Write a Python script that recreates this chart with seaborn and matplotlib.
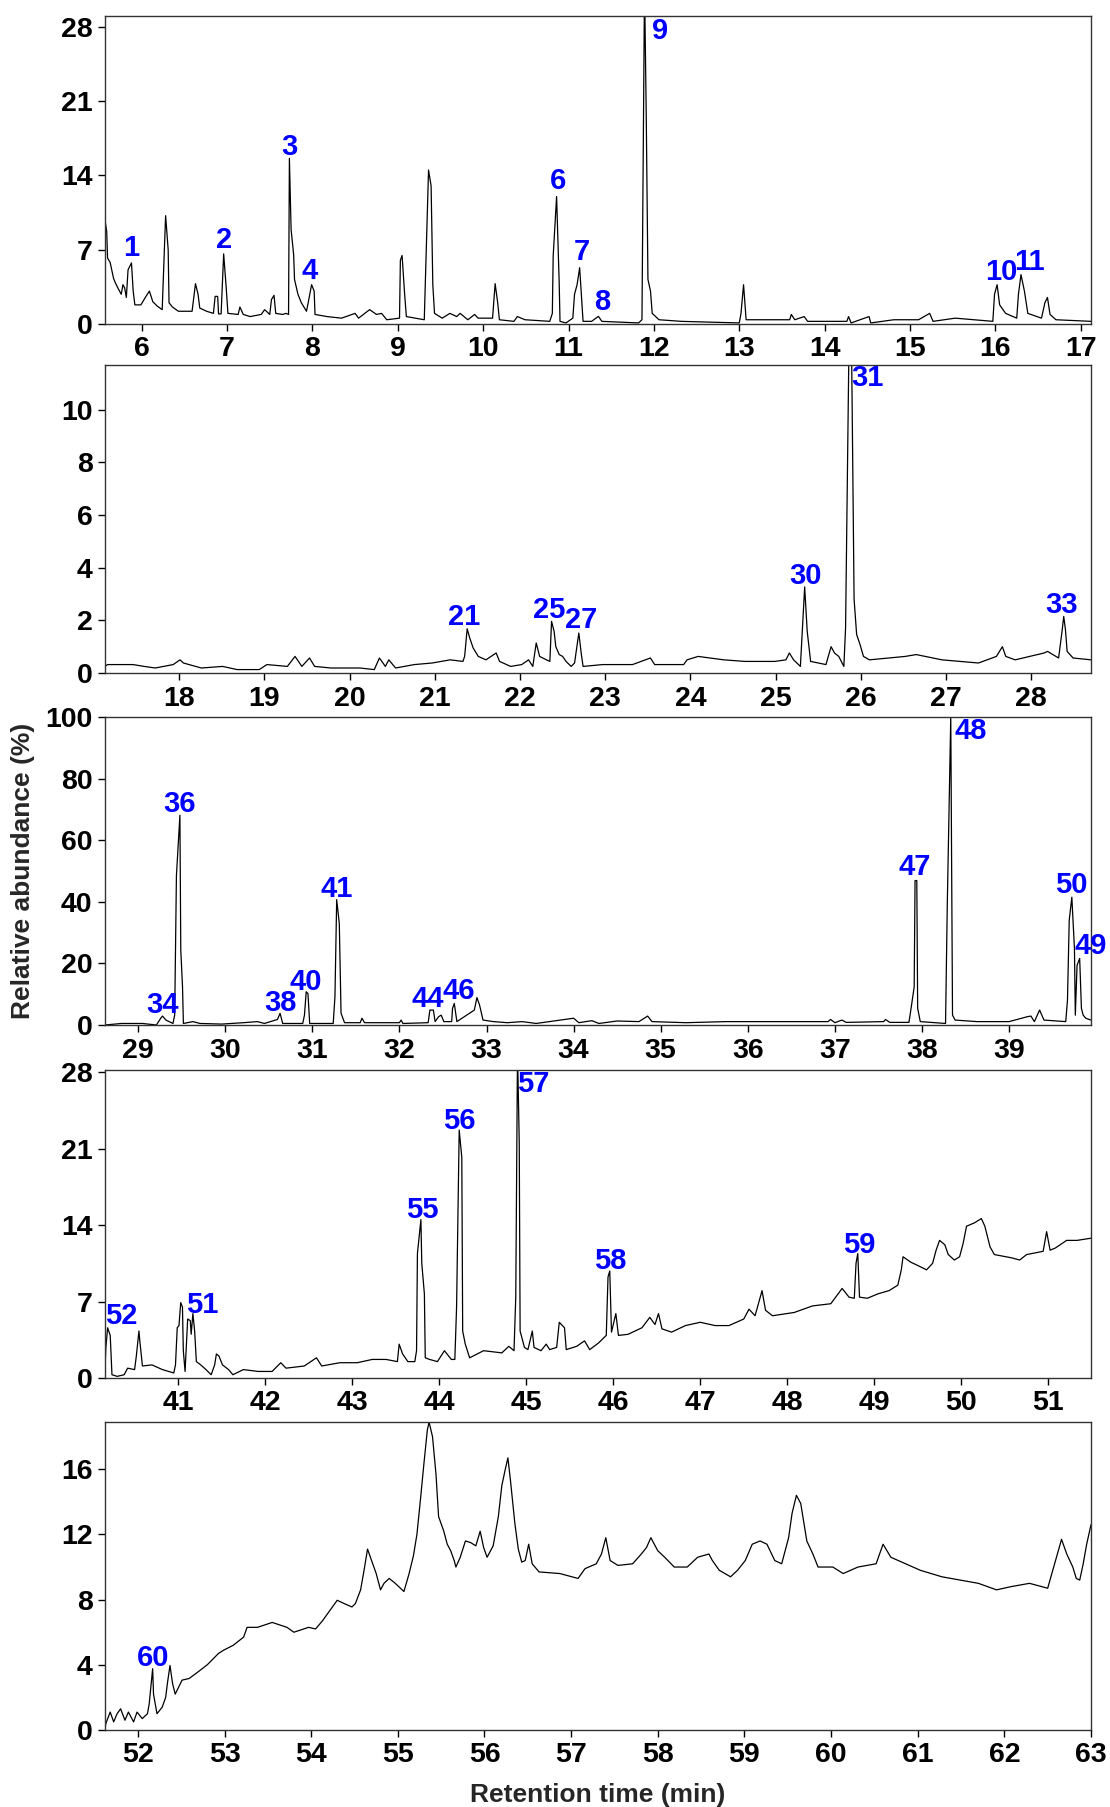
import matplotlib
matplotlib.use("Agg")
import matplotlib.pyplot as plt
import seaborn as sns
import pandas as pd

# chromatogram traces, (retention time min, relative abundance %)
trace_1 = [
    (5.57, 9.8), (5.59, 8.7), (5.60, 6.2), (5.63, 5.8), (5.67, 4.3), (5.69, 3.9), (5.72, 3.4),
    (5.76, 2.8), (5.78, 3.7), (5.80, 3.4), (5.82, 2.5), (5.84, 5.1), (5.88, 5.75), (5.90, 3.1),
    (5.92, 1.8), (5.99, 1.8), (6.05, 2.6), (6.09, 3.1), (6.13, 2.1), (6.18, 1.7), (6.24, 1.35),
    (6.28, 10.2), (6.31, 7.0), (6.32, 2.0), (6.36, 1.6), (6.43, 1.2), (6.59, 1.2), (6.63, 3.8),
    (6.66, 2.8), (6.68, 1.5), (6.76, 1.2), (6.84, 1.0), (6.86, 2.6), (6.89, 2.6), (6.90, 0.95),
    (6.93, 0.95), (6.96, 6.6), (6.99, 3.4), (7.01, 1.0), (7.13, 0.9), (7.15, 1.6), (7.19, 0.9),
    (7.27, 0.7), (7.40, 0.9), (7.44, 1.35), (7.50, 0.9), (7.52, 2.3), (7.55, 2.7), (7.57, 1.0),
    (7.65, 0.9), (7.69, 1.0), (7.72, 0.9), (7.73, 15.6), (7.75, 8.9), (7.78, 6.5), (7.79, 4.2),
    (7.83, 2.8), (7.87, 2.0), (7.93, 1.2), (7.95, 2.0), (7.99, 3.7), (8.02, 3.1), (8.03, 0.9),
    (8.17, 0.7), (8.34, 0.55), (8.50, 1.0), (8.54, 0.55), (8.67, 1.35), (8.75, 0.9), (8.81, 1.0),
    (8.87, 0.4), (9.02, 0.55), (9.03, 6.0), (9.05, 6.45), (9.08, 2.8), (9.10, 0.7), (9.31, 0.4),
    (9.36, 14.5), (9.39, 13.0), (9.41, 3.7), (9.43, 1.0), (9.52, 0.55), (9.61, 1.0), (9.69, 0.7),
    (9.73, 1.0), (9.82, 0.4), (9.90, 0.9), (9.94, 0.55), (10.11, 0.55), (10.14, 3.8), (10.17, 2.0),
    (10.19, 0.4), (10.36, 0.25), (10.40, 0.7), (10.49, 0.4), (10.78, 0.25), (10.81, 1.0),
    (10.82, 6.4), (10.86, 12.0), (10.89, 4.0), (10.90, 0.25), (10.97, 0.1), (11.05, 0.55),
    (11.07, 2.8), (11.10, 3.7), (11.13, 5.3), (11.15, 2.8), (11.17, 0.25), (11.27, 0.25),
    (11.35, 0.72), (11.39, 0.25), (11.82, 0.1), (11.86, 0.4), (11.89, 32.0), (11.91, 19.7),
    (11.93, 4.2), (11.96, 3.1), (11.98, 1.0), (12.06, 0.4), (12.32, 0.25), (13.00, 0.1),
    (13.02, 1.0), (13.05, 3.7), (13.08, 0.4), (13.59, 0.4), (13.61, 0.9), (13.65, 0.4),
    (13.76, 0.7), (13.80, 0.25), (14.26, 0.25), (14.28, 0.7), (14.31, 0.1), (14.52, 0.7),
    (14.54, 0.1), (14.81, 0.4), (15.10, 0.4), (15.23, 1.0), (15.27, 0.25), (15.53, 0.55),
    (15.97, 0.25), (15.99, 2.8), (16.02, 3.7), (16.05, 1.8), (16.12, 1.0), (16.25, 0.55),
    (16.27, 2.8), (16.30, 4.65), (16.34, 3.1), (16.38, 1.0), (16.54, 0.55), (16.58, 2.0),
    (16.61, 2.5), (16.64, 0.9), (16.71, 0.4), (17.12, 0.25),
]

trace_2 = [
    (17.13, 0.25), (17.16, 0.32), (17.46, 0.32), (17.59, 0.25), (17.72, 0.19), (17.93, 0.32),
    (18.01, 0.5), (18.05, 0.38), (18.26, 0.19), (18.51, 0.25), (18.68, 0.13), (18.94, 0.13),
    (19.03, 0.32), (19.27, 0.25), (19.36, 0.63), (19.44, 0.25), (19.53, 0.57), (19.59, 0.25),
    (19.78, 0.19), (20.12, 0.19), (20.29, 0.13), (20.35, 0.57), (20.42, 0.25), (20.46, 0.5),
    (20.54, 0.19), (20.76, 0.32), (20.97, 0.38), (21.18, 0.5), (21.33, 0.44), (21.35, 0.63),
    (21.38, 1.68), (21.41, 1.33), (21.45, 0.95), (21.51, 0.63), (21.60, 0.5), (21.72, 0.76),
    (21.76, 0.44), (21.89, 0.25), (22.02, 0.32), (22.10, 0.5), (22.15, 0.25), (22.19, 1.14),
    (22.23, 0.63), (22.31, 0.5), (22.35, 0.44), (22.37, 1.96), (22.40, 1.58), (22.42, 1.0),
    (22.46, 0.7), (22.50, 0.63), (22.54, 0.44), (22.60, 0.25), (22.64, 0.38), (22.69, 1.52),
    (22.72, 0.7), (22.74, 0.25), (22.97, 0.32), (23.32, 0.32), (23.53, 0.57), (23.58, 0.32),
    (23.92, 0.32), (23.96, 0.5), (24.09, 0.63), (24.39, 0.5), (24.64, 0.44), (24.99, 0.44),
    (25.12, 0.5), (25.16, 0.76), (25.21, 0.5), (25.29, 0.25), (25.34, 3.27), (25.37, 1.58),
    (25.41, 0.44), (25.59, 0.32), (25.65, 1.0), (25.69, 0.76), (25.74, 0.63), (25.80, 0.25),
    (25.82, 1.7), (25.86, 12.5), (25.89, 12.5), (25.92, 2.8), (25.95, 1.46), (25.99, 1.08),
    (26.03, 0.63), (26.10, 0.5), (26.52, 0.63), (26.65, 0.7), (26.95, 0.5), (27.38, 0.38),
    (27.59, 0.63), (27.66, 1.0), (27.70, 0.63), (27.81, 0.5), (28.15, 0.76), (28.19, 0.82),
    (28.32, 0.57), (28.36, 1.58), (28.38, 2.15), (28.40, 1.65), (28.42, 0.82), (28.49, 0.57),
    (28.70, 0.5),
]

trace_3 = [
    (28.62, 0.0), (28.81, 0.5), (29.05, 0.5), (29.21, 0.0), (29.26, 2.2), (29.28, 2.9),
    (29.32, 1.6), (29.40, 0.5), (29.42, 3.2), (29.44, 48.5), (29.48, 68.1), (29.49, 24.3),
    (29.51, 12.4), (29.52, 0.5), (29.63, 1.1), (29.71, 0.5), (29.96, 0.3), (30.21, 0.75),
    (30.37, 1.1), (30.45, 0.5), (30.60, 1.8), (30.63, 3.8), (30.66, 0.5), (30.89, 0.5),
    (30.91, 3.2), (30.93, 10.8), (30.95, 10.2), (30.97, 0.5), (31.24, 0.5), (31.26, 9.2),
    (31.28, 40.7), (31.31, 32.9), (31.33, 3.8), (31.37, 0.75), (31.55, 0.75), (31.57, 2.2),
    (31.60, 0.75), (32.00, 0.75), (32.02, 1.6), (32.04, 0.5), (32.33, 0.75), (32.35, 4.85),
    (32.39, 4.85), (32.41, 1.1), (32.45, 2.7), (32.48, 3.2), (32.51, 1.1), (32.60, 1.1),
    (32.61, 5.4), (32.63, 7.0), (32.66, 1.1), (32.86, 4.85), (32.89, 8.9), (32.92, 6.5),
    (32.96, 1.6), (33.08, 1.1), (33.24, 0.75), (33.41, 1.1), (33.57, 0.5), (34.00, 2.2),
    (34.06, 0.75), (34.21, 1.4), (34.29, 0.5), (34.50, 1.3), (34.75, 1.1), (34.85, 2.9),
    (34.90, 1.1), (35.29, 0.75), (35.75, 1.1), (36.13, 1.1), (36.92, 1.1), (36.95, 1.8),
    (37.00, 0.75), (37.08, 1.6), (37.13, 0.85), (37.56, 1.1), (37.58, 1.8), (37.63, 0.85),
    (37.85, 0.85), (37.88, 6.5), (37.91, 12.4), (37.92, 46.9), (37.94, 46.9), (37.95, 5.4),
    (37.98, 1.1), (38.27, 0.5), (38.29, 39.0), (38.33, 100.0), (38.35, 3.2), (38.38, 1.6),
    (38.63, 1.1), (39.00, 1.1), (39.21, 2.7), (39.25, 2.9), (39.29, 1.1), (39.35, 4.85),
    (39.40, 1.6), (39.65, 1.1), (39.67, 8.1), (39.69, 34.0), (39.72, 41.5), (39.75, 24.8),
    (39.76, 3.2), (39.78, 19.4), (39.81, 21.6), (39.83, 5.4), (39.85, 3.2), (39.88, 2.2),
    (39.94, 1.6),
]

trace_4 = [
    (40.16, 0.77), (40.17, 2.8), (40.19, 4.6), (40.22, 3.9), (40.24, 0.3), (40.30, 0.15),
    (40.38, 0.3), (40.42, 0.9), (40.50, 0.77), (40.52, 2.0), (40.55, 4.3), (40.56, 3.4),
    (40.59, 1.1), (40.70, 1.2), (40.82, 0.77), (40.95, 0.46), (40.97, 1.2), (40.99, 4.6),
    (41.01, 4.8), (41.03, 6.9), (41.05, 6.5), (41.06, 2.5), (41.08, 0.6), (41.11, 5.4),
    (41.14, 5.25), (41.15, 4.0), (41.17, 5.9), (41.19, 4.3), (41.21, 1.5), (41.26, 1.2),
    (41.32, 0.77), (41.38, 0.3), (41.42, 1.2), (41.44, 2.2), (41.47, 2.0), (41.51, 1.2),
    (41.58, 0.77), (41.63, 0.3), (41.75, 0.77), (41.92, 0.6), (42.08, 0.6), (42.18, 1.4),
    (42.24, 0.9), (42.45, 1.1), (42.59, 1.85), (42.65, 1.1), (42.86, 1.4), (43.06, 1.4),
    (43.23, 1.7), (43.39, 1.7), (43.52, 1.5), (43.54, 3.1), (43.58, 2.2), (43.64, 1.5),
    (43.72, 1.5), (43.74, 2.5), (43.75, 11.4), (43.79, 14.5), (43.80, 10.5), (43.83, 7.7),
    (43.84, 1.85), (43.89, 1.7), (43.98, 1.5), (44.06, 2.5), (44.14, 1.7), (44.18, 1.7),
    (44.20, 6.5), (44.23, 22.7), (44.26, 20.2), (44.27, 4.3), (44.30, 3.1), (44.35, 1.85),
    (44.51, 2.5), (44.72, 2.3), (44.80, 2.9), (44.86, 2.5), (44.88, 7.4), (44.90, 30.0),
    (44.92, 21.6), (44.93, 4.3), (44.96, 3.4), (44.98, 2.8), (45.02, 2.6), (45.07, 4.3),
    (45.09, 2.8), (45.17, 2.5), (45.23, 3.1), (45.27, 2.6), (45.35, 2.8), (45.38, 5.1),
    (45.44, 4.6), (45.46, 2.6), (45.58, 2.9), (45.67, 3.4), (45.73, 2.6), (45.83, 3.2),
    (45.92, 3.9), (45.94, 9.25), (45.96, 9.8), (45.98, 4.2), (46.03, 5.9), (46.06, 3.9),
    (46.17, 4.0), (46.33, 4.6), (46.42, 5.55), (46.48, 4.9), (46.52, 5.9), (46.56, 4.5),
    (46.67, 4.2), (46.83, 4.8), (47.00, 5.1), (47.17, 4.8), (47.33, 4.8), (47.50, 5.4),
    (47.56, 6.3), (47.63, 5.7), (47.71, 8.0), (47.75, 6.2), (47.83, 5.7), (48.08, 6.0),
    (48.29, 6.6), (48.50, 6.8), (48.63, 8.2), (48.71, 7.4), (48.77, 7.3), (48.79, 10.5),
    (48.81, 11.4), (48.83, 7.4), (48.92, 7.3), (49.04, 7.7), (49.17, 8.0), (49.27, 8.5),
    (49.31, 9.9), (49.33, 11.1), (49.42, 10.6), (49.50, 10.3), (49.60, 9.9), (49.67, 10.5),
    (49.71, 11.7), (49.75, 12.6), (49.81, 12.2), (49.85, 11.3), (49.92, 10.8), (49.98, 11.1),
    (50.02, 12.3), (50.06, 13.9), (50.15, 14.2), (50.23, 14.6), (50.27, 13.9), (50.33, 12.0),
    (50.38, 11.3), (50.58, 11.0), (50.67, 10.8), (50.75, 11.3), (50.94, 11.6), (50.98, 13.4),
    (51.02, 11.7), (51.08, 11.9), (51.21, 12.6), (51.33, 12.6), (51.49, 12.8),
]

trace_5 = [
    (51.62, 0.1), (51.63, 0.4), (51.68, 1.1), (51.72, 0.5), (51.76, 1.0), (51.80, 1.3),
    (51.85, 0.6), (51.89, 1.1), (51.95, 0.5), (51.99, 1.1), (52.05, 0.7), (52.11, 1.0),
    (52.13, 1.6), (52.17, 3.76), (52.18, 2.2), (52.22, 1.0), (52.28, 1.4), (52.32, 2.0),
    (52.34, 2.85), (52.37, 3.96), (52.40, 2.85), (52.43, 2.2), (52.51, 3.06), (52.59, 3.16),
    (52.67, 3.47), (52.80, 4.0), (52.93, 4.7), (52.99, 4.9), (53.10, 5.2), (53.22, 5.7),
    (53.26, 6.3), (53.38, 6.3), (53.55, 6.6), (53.72, 6.3), (53.80, 6.0), (53.97, 6.3),
    (54.05, 6.2), (54.13, 6.7), (54.30, 7.96), (54.38, 7.76), (54.47, 7.55), (54.51, 7.76),
    (54.57, 8.6), (54.61, 9.8), (54.65, 11.1), (54.71, 10.2), (54.75, 9.6), (54.80, 8.6),
    (54.84, 9.0), (54.90, 9.3), (54.97, 9.0), (55.07, 8.5), (55.13, 9.6), (55.18, 10.7),
    (55.22, 12.0), (55.26, 14.1), (55.30, 16.3), (55.34, 18.4), (55.36, 18.9), (55.40, 18.0),
    (55.44, 15.7), (55.47, 13.1), (55.53, 12.2), (55.57, 11.4), (55.61, 11.0), (55.65, 10.4),
    (55.67, 10.0), (55.72, 10.6), (55.78, 11.6), (55.84, 11.5), (55.90, 11.3), (55.95, 12.2),
    (55.99, 11.2), (56.03, 10.6), (56.10, 11.3), (56.16, 13.1), (56.20, 15.0), (56.24, 16.0),
    (56.27, 16.7), (56.30, 15.3), (56.35, 12.7), (56.39, 11.1), (56.43, 10.3), (56.47, 10.4),
    (56.51, 11.4), (56.55, 10.2), (56.63, 9.7), (56.87, 9.6), (57.08, 9.3), (57.16, 9.9),
    (57.29, 10.2), (57.35, 10.8), (57.40, 11.8), (57.45, 10.4), (57.54, 10.1), (57.71, 10.2),
    (57.81, 10.8), (57.87, 11.2), (57.92, 11.8), (58.00, 11.0), (58.08, 10.6), (58.19, 10.0),
    (58.34, 10.0), (58.46, 10.6), (58.59, 10.8), (58.63, 10.4), (58.71, 9.8), (58.84, 9.4),
    (58.92, 9.8), (59.01, 10.4), (59.09, 11.4), (59.18, 11.6), (59.26, 11.4), (59.35, 10.4),
    (59.43, 10.2), (59.51, 11.8), (59.55, 13.3), (59.60, 14.4), (59.65, 13.9), (59.68, 12.9),
    (59.72, 11.6), (59.79, 10.8), (59.85, 10.0), (60.02, 10.0), (60.14, 9.6), (60.31, 10.0),
    (60.52, 10.2), (60.60, 11.4), (60.69, 10.6), (60.86, 10.2), (61.03, 9.8), (61.28, 9.4),
    (61.49, 9.2), (61.70, 9.0), (61.91, 8.6), (62.08, 8.8), (62.29, 9.0), (62.50, 8.7),
    (62.58, 10.2), (62.66, 11.7), (62.72, 10.8), (62.79, 10.0), (62.83, 9.3), (62.87, 9.2),
    (62.91, 10.2), (62.95, 11.4), (63.00, 12.6),
]

# peak numbers and where they are written (time, abundance)
labels_1 = [("1", 5.88, 7.2), ("2", 6.96, 7.9), ("3", 7.73, 16.7), ("4", 7.97, 5.0),
            ("6", 10.88, 13.5), ("7", 11.16, 6.8), ("8", 11.39, 2.1), ("9", 12.07, 27.6),
            ("10", 16.07, 4.9), ("11", 16.40, 5.8)]
labels_2 = [("21", 21.34, 2.14), ("25", 22.34, 2.4), ("27", 22.72, 2.0), ("30", 25.35, 3.7),
            ("31", 26.08, 11.2), ("33", 28.35, 2.6)]
labels_3 = [("34", 29.28, 6.4), ("36", 29.48, 71.9), ("38", 30.63, 7.1), ("40", 30.93, 13.9),
            ("41", 31.28, 44.2), ("44", 32.33, 8.6), ("46", 32.68, 10.9), ("47", 37.92, 51.3),
            ("48", 38.56, 95.5), ("50", 39.71, 45.3), ("49", 39.94, 25.5)]
labels_4 = [("52", 40.35, 5.7), ("51", 41.28, 6.7), ("55", 43.81, 15.4), ("56", 44.23, 23.5),
            ("57", 45.08, 26.9), ("58", 45.96, 10.7), ("59", 48.83, 12.2)]
labels_5 = [("60", 52.17, 4.4)]

xticks = [range(6, 18), range(18, 29), range(29, 40), range(41, 52), range(52, 64)]
yticks = [[0, 7, 14, 21, 28], [0, 2, 4, 6, 8, 10], [0, 20, 40, 60, 80, 100],
          [0, 7, 14, 21, 28], [0, 4, 8, 12, 16]]
xlims = [(5.57, 17.12), (17.13, 28.70), (28.62, 39.94), (40.16, 51.49), (51.62, 63.0)]
ylims = [(0, 29.0), (0, 11.7), (0, 100), (0, 28.2), (0, 18.9)]

traces = [trace_1, trace_2, trace_3, trace_4, trace_5]
labels = [labels_1, labels_2, labels_3, labels_4, labels_5]

sns.set_theme(style="ticks")
plt.rcParams['font.family'] = ['Liberation Sans', 'DejaVu Sans']
plt.rcParams['font.weight'] = 'bold'

W, H = 1110, 1807
fig = plt.figure(figsize=(W / 100, H / 100), dpi=100)

left, right = 105, 1091
panel_px = [(16, 324), (365, 673), (717, 1025), (1070, 1378), (1422, 1730)]

for i in range(5):
    top, bot = panel_px[i]
    ax = fig.add_axes([left / W, 1 - bot / H, (right - left) / W, (bot - top) / H])
    df = pd.DataFrame(traces[i], columns=["time", "abundance"])
    sns.lineplot(data=df, x="time", y="abundance", ax=ax, color="black",
                 linewidth=0.9, estimator=None, sort=False)
    ax.set_xlim(*xlims[i])
    ax.set_ylim(*ylims[i])
    ax.set_xticks(list(xticks[i]), labels=[str(t) for t in xticks[i]],
                  fontsize=20.5, fontweight="bold")
    ax.set_yticks(yticks[i], labels=[str(t) for t in yticks[i]],
                  fontsize=20.5, fontweight="bold")
    ax.set_xlabel("")
    ax.set_ylabel("")
    ax.tick_params(direction="out", length=5, width=1.0, pad=4, colors="black")
    for sp in ax.spines.values():
        sp.set_visible(True)
        sp.set_linewidth(1.0)
        sp.set_color("#333333")
    for txt, x, y in labels[i]:
        ax.text(x, y, txt, color="#0000ff", fontsize=21, fontweight="bold",
                ha="center", va="center")

fig.text(0.021, 1 - 871 / H, "Relative abundance (%)", rotation=90, ha="center",
         va="center", fontsize=19, fontweight="bold")
fig.text((left + right) / 2 / W, 1 - 1795 / H, "Retention time (min)", ha="center",
         va="center", fontsize=19, fontweight="bold")

fig.savefig("out.png", dpi=100)
